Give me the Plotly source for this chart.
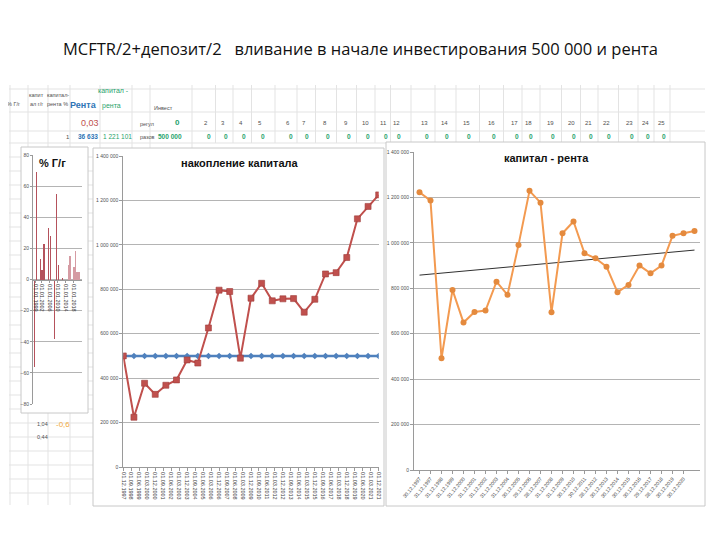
import numpy as np
import plotly.graph_objects as go

# page body has an 8px margin: figure is drawn at (8,8) in the 720x540 window
OFF = 8
W, H = 720 - OFF, 540 - OFF
def px(x): return (x - OFF) / W
def py(y): return 1 - (y - OFF) / H

# ---------------- data ----------------
# small chart "% Г/г"
growth_years = [1998.5, 1999.5, 2001.5, 2002.2, 2003.2, 2005.4, 2006.4, 2008.4, 2009.6,
                2010.6, 2012.6, 2015.8, 2016.3, 2018.3, 2019.2, 2020.0, 2021.0]
growth_pct = [-56, 69, 13, 6, 23, 33, 28, -38, 55, 9, 1, 9, 15, 8, 18, 5, 5]
growth_tickvals = [1999, 2002, 2006, 2010, 2014, 2018]
growth_ticktext = ["01.01.1999", "01.01.2002", "01.01.2006", "01.01.2010", "01.01.2014", "01.01.2018"]

# middle chart "накопление капитала"
accum_dates = ["1997-12-01", "1998-12-01", "1999-12-01", "2000-12-01", "2001-12-01",
               "2002-12-01", "2003-12-01", "2004-12-01", "2005-12-01", "2006-12-01",
               "2007-12-01", "2008-12-01", "2009-12-01", "2010-12-01", "2011-12-01",
               "2012-12-01", "2013-12-01", "2014-12-01", "2015-12-01", "2016-12-01",
               "2017-12-01", "2018-12-01", "2019-12-01", "2020-12-01", "2021-12-01"]
accum_capital = [500000, 224000, 377000, 327000, 368000, 392000, 482000, 468000, 626000,
                 796000, 790000, 490000, 760000, 827000, 748000, 757000, 758000, 697000,
                 755000, 869000, 875000, 943000, 1117000, 1173000, 1225000]
accum_invest = [500000, 500000, 500000, 500000, 500000, 500000, 500000, 500000, 500000,
                500000, 500000, 500000, 500000, 500000, 500000, 500000, 500000, 500000,
                500000, 500000, 500000, 500000, 500000, 500000, 500000]

# right chart "капитал - рента"
rent_labels = ["30.12.1997", "31.12.1997", "31.12.1998", "31.12.1999", "31.12.2000",
               "31.12.2001", "31.12.2002", "31.12.2003", "31.12.2004", "30.12.2005",
               "29.12.2006", "28.12.2007", "31.12.2008", "31.12.2009", "30.12.2010",
               "30.12.2011", "28.12.2012", "30.12.2013", "30.12.2014", "30.12.2015",
               "30.12.2016", "29.12.2017", "28.12.2018", "30.12.2019", "30.12.2020"]
rent_capital = [1223000, 1186000, 492000, 793000, 649000, 696000, 702000, 829000, 771000,
                991000, 1229000, 1177000, 695000, 1042000, 1094000, 954000, 932000, 895000,
                783000, 815000, 900000, 866000, 900000, 1031000, 1042000, 1052000]

# spreadsheet header
col_numbers = ["2", "3", "4", "5", "6", "7", "8", "9", "10", "11", "12", "13",
               "14", "15", "16", "17", "18", "19", "20", "21", "22", "23", "24", "25"]

# ---------------- layout geometry (pixels) ----------------
col_x = [206, 223, 241, 260, 288, 304, 325, 346, 365, 383, 396, 424, 444, 466,
         491, 514, 528, 550, 571, 588, 606, 629, 645, 661]

rent_idx = list(range(len(rent_capital)))
coef = np.polyfit(rent_idx, rent_capital, 1)
trend = [coef[0] * i + coef[1] for i in rent_idx]

GRID = "#b4b4b4"
AX = "#9a9a9a"
TXT = "#505050"
FONT = "Liberation Sans"

fig = go.Figure()

bar_colors = ["#b5525c"] * 11 + ["#d59ba3"] * (len(growth_pct) - 11)
fig.add_trace(go.Bar(x=growth_years, y=growth_pct, width=0.3,
                     marker=dict(color=bar_colors, line=dict(width=0)),
                     xaxis="x", yaxis="y", showlegend=False))

fig.add_trace(go.Scatter(x=accum_dates, y=accum_invest, mode="lines+markers",
                         line=dict(color="#4f81bd", width=2.5),
                         marker=dict(symbol="diamond", size=5, color="#4f81bd"),
                         xaxis="x2", yaxis="y2", showlegend=False))
fig.add_trace(go.Scatter(x=accum_dates, y=accum_capital, mode="lines+markers",
                         line=dict(color="#c0504d", width=2),
                         marker=dict(symbol="square", size=6, color="#c0504d",
                                     line=dict(color="#a03c3a", width=0.6)),
                         xaxis="x2", yaxis="y2", showlegend=False))

fig.add_trace(go.Scatter(x=rent_idx, y=trend, mode="lines",
                         line=dict(color="#303030", width=1),
                         xaxis="x3", yaxis="y3", showlegend=False))
fig.add_trace(go.Scatter(x=rent_idx, y=rent_capital, mode="lines+markers",
                         line=dict(color="#f39a50", width=2),
                         marker=dict(symbol="circle", size=6, color="#e48a3e"),
                         xaxis="x3", yaxis="y3", showlegend=False))

# ---------------- shapes: spreadsheet grid & panels ----------------
shapes = []
def hline(y, x0, x1, color="#e3e3e3", w=1):
    shapes.append(dict(type="line", xref="paper", yref="paper", x0=px(x0), x1=px(x1),
                       y0=py(y), y1=py(y), line=dict(color=color, width=w), layer="below"))
def vline(x, y0, y1, color="#e3e3e3", w=1):
    shapes.append(dict(type="line", xref="paper", yref="paper", x0=px(x), x1=px(x),
                       y0=py(y0), y1=py(y1), line=dict(color=color, width=w), layer="below"))
def rect(x0, y0, x1, y1, color="#c8c8c8"):
    shapes.append(dict(type="rect", xref="paper", yref="paper", x0=px(x0), x1=px(x1),
                       y0=py(y1), y1=py(y0), line=dict(color=color, width=1),
                       fillcolor="white", layer="below"))

for y in [89, 112, 131, 143]:
    hline(y, 9, 705)
for y in range(157, 506, 14):
    hline(y, 9, 100)
for x in [10, 28, 48, 70, 100, 132, 150, 192]:
    vline(x, 85, 505)
for i in range(len(col_x) - 1):
    vline((col_x[i] + col_x[i + 1]) / 2 + 1, 85, 143)
vline(670, 85, 143)

rect(21, 147, 88, 413)
rect(93, 148, 384, 506)
rect(386, 142, 705, 506)

# ---------------- annotations ----------------
ann = []
def txt(s, x, y, size=5.5, color=TXT, bold=False, anchor="center", family=FONT):
    ann.append(dict(text=("<b>%s</b>" % s) if bold else s, x=px(x), y=py(y),
                    xref="paper", yref="paper", showarrow=False, xanchor=anchor,
                    yanchor="middle", font=dict(size=size, color=color, family=family)))

txt("MCFTR/2+депозит/2   вливание в начале инвестирования 500 000 и рента",
    360, 48, size=16.5, color="#111111", family="Open Sans")

txt("% Г/г", 13, 104)
txt("капит", 36, 95); txt("ал г/г", 36, 104)
txt("капитал-", 58, 95); txt("рента %", 57, 104)
txt("Рента", 83, 105, size=9, color="#2e75b6", bold=True)
txt("капитал -", 113, 91, size=7, color="#1fa36c")
txt("рента", 111, 106, size=7, color="#1fa36c")
txt("Инвест", 163, 108)
txt("0,03", 90, 123, size=9, color="#c0504d")
txt("регул", 147, 124)
txt("0", 177, 123, size=8, color="#1fa36c", bold=True)
for s, x in zip(col_numbers, col_x):
    txt(s, x, 123, size=6)
txt("1", 68, 137, size=6)
txt("36 633", 88, 137, size=6.5, color="#2e75b6", bold=True)
txt("1 221 101", 118, 137, size=6.5, color="#1fa36c")
txt("разов", 147, 137)
txt("500 000", 170, 137, size=6.5, color="#1fa36c", bold=True)
for x in col_x:
    txt("0", x + 3, 137, size=6.5, color="#1fa36c", bold=True)

txt("1,04", 42, 424)
txt("-0,6", 63, 424, size=8, color="#f2a93b")
txt("0,44", 42, 437)

txt("% Г/г", 52, 163, size=11, color="#111111", bold=True)
txt("накопление капитала", 240, 163, size=11, color="#111111", bold=True)
txt("капитал - рента", 546, 158, size=11, color="#111111", bold=True)

small_tick = dict(size=5, color=TXT, family=FONT)

fig.update_layout(
    width=W, height=H, margin=dict(l=0, r=0, t=0, b=0, autoexpand=False),
    paper_bgcolor="white", plot_bgcolor="rgba(0,0,0,0)",
    separators=", ", showlegend=False, bargap=0,
    shapes=shapes, annotations=ann,
    xaxis=dict(domain=[px(33), px(82)], range=[1997.64, 2022.4], anchor="free",
               position=py(280), tickvals=growth_tickvals, ticktext=growth_ticktext,
               tickangle=90, tickfont=dict(size=5.5, color="#303030", family=FONT),
               showline=True, linecolor=AX, linewidth=1, ticks="outside", ticklen=2,
               tickcolor=AX, showgrid=False, zeroline=False, automargin=False),
    yaxis=dict(domain=[py(404), py(155)], range=[-80, 80], dtick=20,
               anchor="x", showgrid=True, gridcolor=GRID, gridwidth=1,
               showline=True, linecolor=AX, ticks="outside", ticklen=2, tickcolor=AX,
               tickfont=small_tick, zeroline=False, automargin=False),
    xaxis2=dict(domain=[px(123.3), px(378.7)], anchor="y2", type="date",
                range=["1997-12-01", "2021-12-01"], tick0="1997-12-01", dtick="M9",
                tickformat="%d.%m.%Y", tickangle=90,
                tickfont=dict(size=5.5, color="#404040", family=FONT),
                showline=True, linecolor=AX, ticks="outside", ticklen=3, tickcolor=AX,
                showgrid=False, zeroline=False, automargin=False),
    yaxis2=dict(domain=[py(467), py(156)], anchor="x2", range=[0, 1400000], dtick=200000,
                tickformat=",d", showgrid=True, gridcolor=GRID, showline=True,
                linecolor=AX, ticks="outside", ticklen=3, tickcolor=AX,
                tickfont=small_tick, zeroline=False, automargin=False),
    xaxis3=dict(domain=[px(414), px(700)], anchor="y3", range=[-0.5, 25.5],
                tickvals=list(range(len(rent_labels))), ticktext=rent_labels,
                tickangle=-50, tickfont=dict(size=5, color="#404040", family=FONT),
                showline=True, linecolor=AX, ticks="outside", ticklen=3, tickcolor=AX,
                showgrid=False, zeroline=False, automargin=False),
    yaxis3=dict(domain=[py(470), py(152)], anchor="x3", range=[0, 1400000], dtick=200000,
                tickformat=",d", showgrid=True, gridcolor=GRID, showline=True,
                linecolor=AX, ticks="outside", ticklen=3, tickcolor=AX,
                tickfont=small_tick, zeroline=False, automargin=False),
)

fig.write_html("out.html")
